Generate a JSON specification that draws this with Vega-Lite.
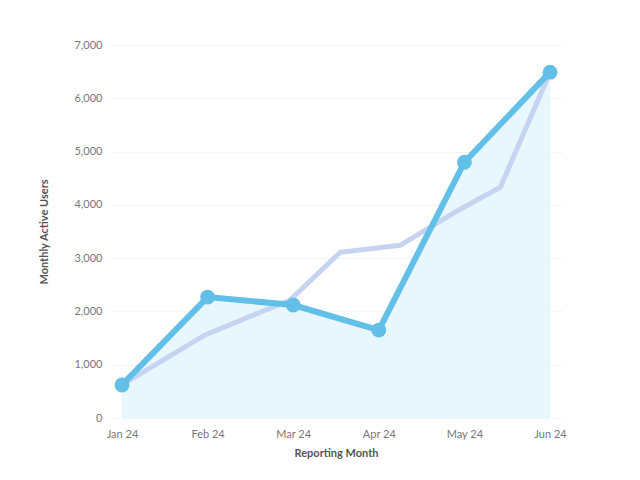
{
  "$schema": "https://vega.github.io/schema/vega-lite/v6.json",
  "width": 452,
  "height": 373,
  "autosize": {"type": "none"},
  "padding": {"left": 110, "top": 45, "right": 78, "bottom": 62},
  "background": "white",
  "datasets": {
    "main": [
      {"step": 1, "users": 620},
      {"step": 2, "users": 2270},
      {"step": 3, "users": 2120},
      {"step": 4, "users": 1650},
      {"step": 5, "users": 4800},
      {"step": 6, "users": 6490}
    ],
    "trend": [
      {"step": 1, "users": 620},
      {"step": 1.97, "users": 1560},
      {"step": 2.96, "users": 2210},
      {"step": 3.55, "users": 3110},
      {"step": 4.25, "users": 3240},
      {"step": 4.93, "users": 3900},
      {"step": 5.42, "users": 4330},
      {"step": 6, "users": 6490}
    ]
  },
  "encoding": {
    "x": {
      "field": "step",
      "type": "quantitative",
      "scale": {"domain": [0.86, 6.14], "nice": false, "zero": false},
      "axis": {
        "title": "Reporting Month",
        "values": [1, 2, 3, 4, 5, 6],
        "labelExpr": "['', 'Jan 24', 'Feb 24', 'Mar 24', 'Apr 24', 'May 24', 'Jun 24'][datum.value]",
        "grid": false,
        "domain": false,
        "ticks": false,
        "labelPadding": 10,
        "titlePadding": 8
      }
    },
    "y": {
      "field": "users",
      "type": "quantitative",
      "scale": {"domain": [0, 7000], "nice": false},
      "axis": {
        "title": "Monthly Active Users",
        "values": [0, 1000, 2000, 3000, 4000, 5000, 6000, 7000],
        "format": ",.0f",
        "domain": false,
        "ticks": false,
        "labelPadding": 8,
        "titlePadding": 24
      }
    }
  },
  "layer": [
    {
      "data": {"name": "main"},
      "mark": {"type": "area", "color": "#e8f6fd", "opacity": 1}
    },
    {
      "data": {"name": "trend"},
      "mark": {"type": "line", "color": "#c6d4f1", "strokeWidth": 5}
    },
    {
      "data": {"name": "main"},
      "mark": {"type": "line", "color": "#62c0e8", "strokeWidth": 6, "point": {"filled": true, "size": 220, "color": "#62c0e8"}}
    }
  ],
  "config": {
    "font": "Lato",
    "view": {"stroke": null},
    "axis": {
      "gridColor": "#f3f3f3",
      "labelColor": "#777",
      "labelFontSize": 11,
      "titleColor": "#555",
      "titleFontSize": 11,
      "titleFontWeight": "bold"
    }
  }
}
